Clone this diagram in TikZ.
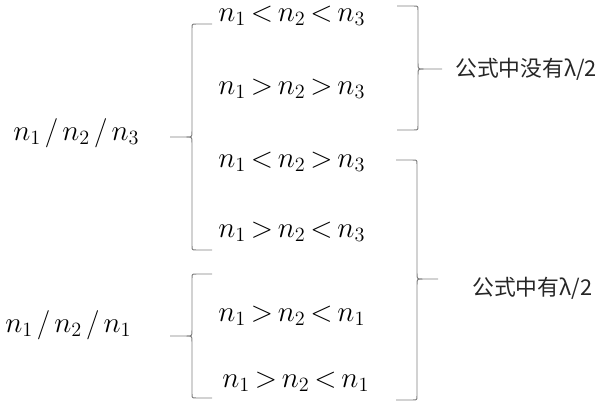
\documentclass[tikz,border=0pt]{standalone}
\usepackage{fontspec}
\newfontfamily\cjk{Noto Sans CJK SC}
\usetikzlibrary{calc}
\thickmuskip=3mu plus 1mu
% #1 spine x, #2 hook end x, #3 tip x, #4 top y, #5 tip y, #6 bottom y
\newcommand{\curlybr}[6]{%
  \draw[brc] (#2,#4) -- ($(#1,#4)!3pt!(#2,#4)$) .. controls (#1,#4) .. ($(#1,#4)!3pt!(#1,#5)$)
    -- ($(#1,#5)!4pt!(#1,#4)$) .. controls (#1,#5) .. ($(#1,#5)!4pt!(#3,#5)$) -- (#3,#5)
    ($(#1,#5)!4pt!(#3,#5)$) .. controls (#1,#5) .. ($(#1,#5)!4pt!(#1,#6)$)
    -- ($(#1,#6)!3pt!(#1,#5)$) .. controls (#1,#6) .. ($(#1,#6)!3pt!(#2,#6)$) -- (#2,#6);}
\newcommand{\sep}{\mkern2.5mu/\mkern2.5mu}

\begin{document}
\begin{tikzpicture}[x=0.025cm,y=-0.025cm,
  rel/.style={font=\fontsize{21}{25}\selectfont,inner sep=0pt,anchor=base west},
  note/.style={font=\cjk\fontsize{15.5}{18}\selectfont,text=black!85,inner sep=0pt,anchor=west},
  brc/.style={draw=black!50,line width=0.7pt}]
  \useasboundingbox (0,0) rectangle (600,402);
  % index patterns
  \node[rel] (triple) at (13,140) {$n_1\sep n_2\sep n_3$};
  \node[rel] (mirror) at (5,332) {$n_1\sep n_2\sep n_1$};
  % orderings
  \node[rel] (incr) at (218,21) {$n_1<n_2<n_3$};
  \node[rel] (decr) at (218,94) {$n_1>n_2>n_3$};
  \node[rel] (peak) at (218,167) {$n_1<n_2>n_3$};
  \node[rel] (dip) at (218,237) {$n_1>n_2<n_3$};
  \node[rel] (dipa) at (218,321) {$n_1>n_2<n_1$};
  \node[rel] (dipb) at (222,387) {$n_1>n_2<n_1$};
  % conclusions
  \node[note] (nolam) at (455,69) {公式中没有λ/2};
  \node[note] (withlam) at (472,288) {公式中有λ/2};
  % braces
  \curlybr{192}{212}{170}{24}{137}{250}
  \curlybr{192}{212}{170}{274}{336}{398}
  \curlybr{418}{397}{442}{6}{69}{130}
  \curlybr{417}{396}{438}{160}{279}{400}
\end{tikzpicture}
\end{document}
